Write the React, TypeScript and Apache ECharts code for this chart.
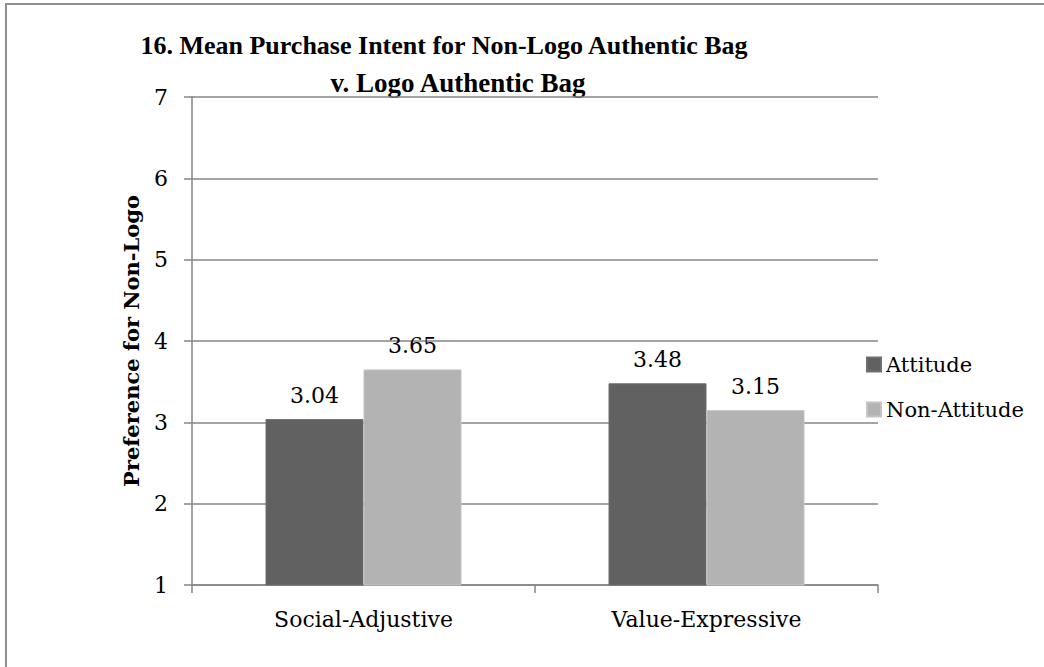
import React, { useEffect, useRef } from "react";
import * as echarts from "echarts";

const categories = ["Social-Adjustive", "Value-Expressive"];
const attitude = [3.04, 3.48];
const nonAttitude = [3.65, 3.15];
const seriesNames = ["Attitude", "Non-Attitude"];
const titleLines = ["16. Mean Purchase Intent for Non-Logo Authentic Bag", "v. Logo Authentic Bag"];
const yAxisName = "Preference for Non-Logo";

const TFONT = "'Liberation Serif', serif";
const FONT = "'DejaVu Serif', serif";

export default function App() {
  const ref = useRef<HTMLDivElement>(null);
  useEffect(() => {
    if (!ref.current) return;
    const chart = echarts.init(ref.current, undefined, { renderer: "svg" });
    const labelStyle = {
      show: true,
      position: "top" as const,
      distance: 13,
      color: "#000",
      fontFamily: FONT,
      fontSize: 22,
      formatter: (p: any) => p.value.toFixed(2),
    };
    chart.setOption({
      animation: false,
      backgroundColor: "#fff",
      graphic: [
        {
          type: "rect",
          shape: { x: 6, y: 4, width: 1100, height: 700 },
          style: { fill: "none", stroke: "#8f8f8f", lineWidth: 2 },
          silent: true,
        },
        {
          type: "text",
          x: 444,
          y: 45,
          style: {
            text: titleLines[0],
            fontFamily: TFONT,
            fontWeight: "bold",
            fontSize: 26,
            fill: "#000",
            align: "center",
            verticalAlign: "middle",
          },
        },
        {
          type: "text",
          x: 458,
          y: 83,
          style: {
            text: titleLines[1],
            fontFamily: TFONT,
            fontWeight: "bold",
            fontSize: 27,
            fill: "#000",
            align: "center",
            verticalAlign: "middle",
          },
        },
      ],
      legend: {
        orient: "vertical",
        left: 861,
        top: 349,
        itemWidth: 14,
        itemHeight: 14,
        itemGap: 24,
        icon: "rect",
        data: seriesNames,
        textStyle: { fontFamily: FONT, fontSize: 21, color: "#000" },
      },
      grid: { left: 192, right: 166, top: 97, bottom: 82, containLabel: false },
      xAxis: {
        type: "category",
        data: categories,
        axisLine: { lineStyle: { color: "#868686", width: 1.5 } },
        axisTick: { show: true, length: 8, lineStyle: { color: "#868686", width: 1.5 } },
        axisLabel: { fontFamily: FONT, fontSize: 22, color: "#000", margin: 23 },
      },
      yAxis: {
        type: "value",
        min: 1,
        max: 7,
        interval: 1,
        name: yAxisName,
        nameLocation: "middle",
        nameGap: 50,
        nameTextStyle: { fontFamily: FONT, fontSize: 21, fontWeight: "bold", color: "#000" },
        axisLine: { show: true, lineStyle: { color: "#868686", width: 1.5 } },
        axisTick: { show: true, length: 8, lineStyle: { color: "#868686", width: 1.5 } },
        axisLabel: { fontFamily: FONT, fontSize: 22, color: "#000", margin: 24 },
        splitLine: { lineStyle: { color: "#868686", width: 1.5 } },
      },
      series: [
        {
          name: seriesNames[0],
          type: "bar",
          data: attitude,
          barWidth: 98,
          barGap: "0%",
          itemStyle: { color: "#616161", borderColor: "#6e6e6e", borderWidth: 1 },
          label: labelStyle,
        },
        {
          name: seriesNames[1],
          type: "bar",
          data: nonAttitude,
          barWidth: 98,
          barGap: "0%",
          itemStyle: { color: "#b3b3b3", borderColor: "#c4c4c4", borderWidth: 1 },
          label: labelStyle,
        },
      ],
    });
    return () => chart.dispose();
  }, []);
  return (
    <div
      ref={ref}
      style={{ position: "fixed", left: 0, top: 0, width: 1044, height: 667, background: "#fff" }}
    />
  );
}
